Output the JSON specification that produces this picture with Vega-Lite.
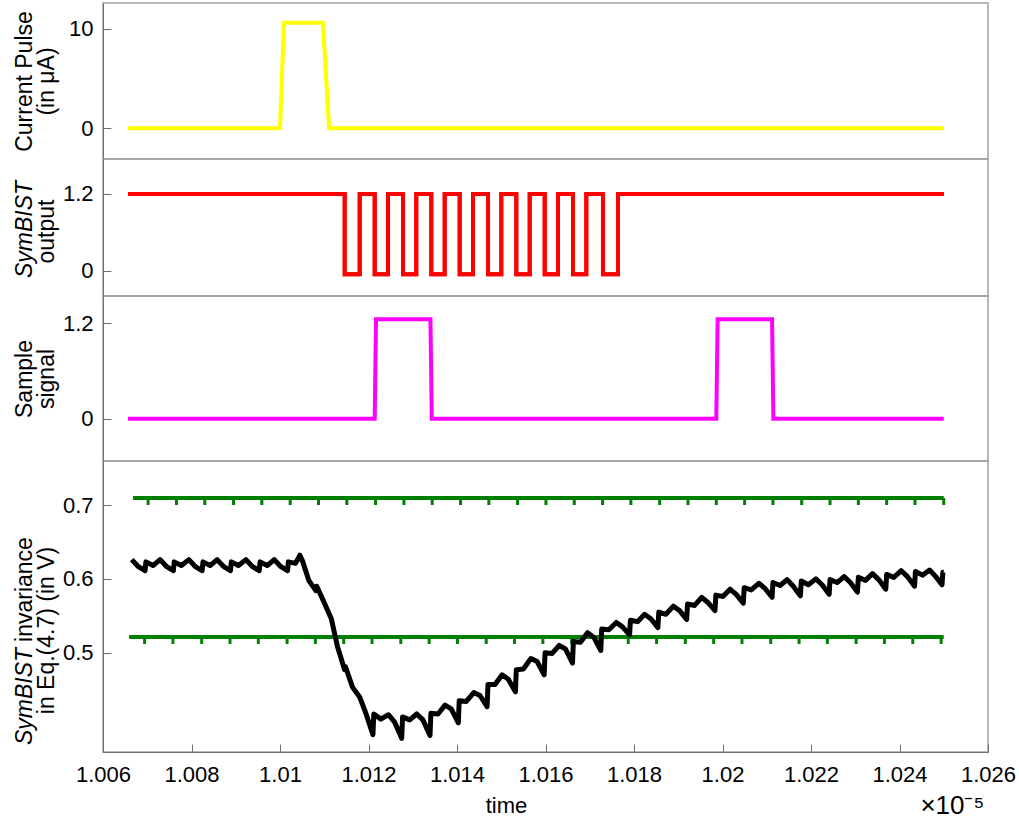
{
  "$schema": "https://vega.github.io/schema/vega-lite/v6.json",
  "padding": {"left": 12, "top": 2, "right": 2, "bottom": 12},
  "background": "white",
  "bounds": "flush",
  "spacing": 0,
  "config": {
    "view": {"stroke": "#a0a0a0", "strokeWidth": 1.5},
    "axis": {
      "labelFont": "Liberation Sans", "labelFontSize": 22, "labelColor": "#000", "labelFlush": false,
      "titleFont": "Liberation Sans", "titleFontSize": 23, "titleFontWeight": "normal", "titleColor": "#000",
      "titleLineHeight": 22,
      "grid": false, "domainColor": "#707070", "tickColor": "#707070", "tickSize": -8
    },
    "axisY": {"titleX": -67, "labelPadding": 18},
    "axisX": {"labelPadding": 20, "titlePadding": 10}
  },
  "title": {"text": "×10⁻⁵", "orient": "bottom", "anchor": "end", "fontSize": 26, "font": "Liberation Sans", "fontWeight": "normal", "color": "#000", "offset": -24, "dx": -32},
  "datasets": {
    "cur": [{"t":1.006565,"v":0},{"t":1.01,"v":0},{"t":1.01009,"v":10.6},{"t":1.01097,"v":10.6},{"t":1.01111,"v":0},{"t":1.025,"v":0}],
    "sym": [{"t":1.006565,"v":1.2},{"t":1.011462,"v":1.2},{"t":1.011462,"v":-0.05},{"t":1.011801,"v":-0.05},{"t":1.011801,"v":1.2},{"t":1.01214,"v":1.2},{"t":1.01214,"v":-0.05},{"t":1.012441,"v":-0.05},{"t":1.012441,"v":1.2},{"t":1.01278,"v":1.2},{"t":1.01278,"v":-0.05},{"t":1.01308,"v":-0.05},{"t":1.01308,"v":1.2},{"t":1.013419,"v":1.2},{"t":1.013419,"v":-0.05},{"t":1.013722,"v":-0.05},{"t":1.013722,"v":1.2},{"t":1.014061,"v":1.2},{"t":1.014061,"v":-0.05},{"t":1.014362,"v":-0.05},{"t":1.014362,"v":1.2},{"t":1.014701,"v":1.2},{"t":1.014701,"v":-0.05},{"t":1.015001,"v":-0.05},{"t":1.015001,"v":1.2},{"t":1.01534,"v":1.2},{"t":1.01534,"v":-0.05},{"t":1.015643,"v":-0.05},{"t":1.015643,"v":1.2},{"t":1.015982,"v":1.2},{"t":1.015982,"v":-0.05},{"t":1.016282,"v":-0.05},{"t":1.016282,"v":1.2},{"t":1.016621,"v":1.2},{"t":1.016621,"v":-0.05},{"t":1.016922,"v":-0.05},{"t":1.016922,"v":1.2},{"t":1.017299,"v":1.2},{"t":1.017299,"v":-0.05},{"t":1.017638,"v":-0.05},{"t":1.017638,"v":1.2},{"t":1.025,"v":1.2}],
    "smp": [{"t":1.006565,"v":0},{"t":1.01214,"v":0},{"t":1.01217,"v":1.25},{"t":1.0134,"v":1.25},{"t":1.01343,"v":0},{"t":1.01986,"v":0},{"t":1.01989,"v":1.25},{"t":1.02112,"v":1.25},{"t":1.02115,"v":0},{"t":1.025,"v":0}],
    "grn": [{"t":1.00668,"v":0.7095,"g":"hi"},{"t":1.025,"v":0.7095,"g":"hi"},{"t":1.00659,"v":0.5213,"g":"lo"},{"t":1.025,"v":0.5213,"g":"lo"}],
    "notch": [
      {"t":1.00702,"v":0.7095,"v2":0.7},{"t":1.00766,"v":0.7095,"v2":0.7},{"t":1.0083,"v":0.7095,"v2":0.7},{"t":1.00895,"v":0.7095,"v2":0.7},{"t":1.00959,"v":0.7095,"v2":0.7},{"t":1.01023,"v":0.7095,"v2":0.7},{"t":1.01087,"v":0.7095,"v2":0.7},{"t":1.01151,"v":0.7095,"v2":0.7},{"t":1.01216,"v":0.7095,"v2":0.7},{"t":1.0128,"v":0.7095,"v2":0.7},{"t":1.01344,"v":0.7095,"v2":0.7},{"t":1.01408,"v":0.7095,"v2":0.7},{"t":1.01472,"v":0.7095,"v2":0.7},{"t":1.01537,"v":0.7095,"v2":0.7},{"t":1.01601,"v":0.7095,"v2":0.7},{"t":1.01665,"v":0.7095,"v2":0.7},{"t":1.01729,"v":0.7095,"v2":0.7},{"t":1.01793,"v":0.7095,"v2":0.7},{"t":1.01858,"v":0.7095,"v2":0.7},{"t":1.01922,"v":0.7095,"v2":0.7},{"t":1.01986,"v":0.7095,"v2":0.7},{"t":1.0205,"v":0.7095,"v2":0.7},{"t":1.02114,"v":0.7095,"v2":0.7},{"t":1.02179,"v":0.7095,"v2":0.7},{"t":1.02243,"v":0.7095,"v2":0.7},{"t":1.02307,"v":0.7095,"v2":0.7},{"t":1.02371,"v":0.7095,"v2":0.7},{"t":1.02435,"v":0.7095,"v2":0.7},{"t":1.025,"v":0.7095,"v2":0.7},
      {"t":1.00694,"v":0.5213,"v2":0.5118},{"t":1.00758,"v":0.5213,"v2":0.5118},{"t":1.00823,"v":0.5213,"v2":0.5118},{"t":1.00887,"v":0.5213,"v2":0.5118},{"t":1.00951,"v":0.5213,"v2":0.5118},{"t":1.01016,"v":0.5213,"v2":0.5118},{"t":1.0108,"v":0.5213,"v2":0.5118},{"t":1.01144,"v":0.5213,"v2":0.5118},{"t":1.01208,"v":0.5213,"v2":0.5118},{"t":1.01273,"v":0.5213,"v2":0.5118},{"t":1.01337,"v":0.5213,"v2":0.5118},{"t":1.01401,"v":0.5213,"v2":0.5118},{"t":1.01466,"v":0.5213,"v2":0.5118},{"t":1.0153,"v":0.5213,"v2":0.5118},{"t":1.01594,"v":0.5213,"v2":0.5118},{"t":1.01659,"v":0.5213,"v2":0.5118},{"t":1.01723,"v":0.5213,"v2":0.5118},{"t":1.01787,"v":0.5213,"v2":0.5118},{"t":1.01851,"v":0.5213,"v2":0.5118},{"t":1.01916,"v":0.5213,"v2":0.5118},{"t":1.0198,"v":0.5213,"v2":0.5118},{"t":1.02044,"v":0.5213,"v2":0.5118},{"t":1.02109,"v":0.5213,"v2":0.5118},{"t":1.02173,"v":0.5213,"v2":0.5118},{"t":1.02237,"v":0.5213,"v2":0.5118},{"t":1.02302,"v":0.5213,"v2":0.5118},{"t":1.02366,"v":0.5213,"v2":0.5118},{"t":1.0243,"v":0.5213,"v2":0.5118},{"t":1.02494,"v":0.5213,"v2":0.5118}
    ],
    "inv": [
      {"t":1.00665,"v":0.626},{"t":1.00679,"v":0.617},{"t":1.00695,"v":0.611},{"t":1.00697,"v":0.623},{"t":1.00713,"v":0.618},
      {"t":1.00729,"v":0.626},{"t":1.00743,"v":0.617},{"t":1.00759,"v":0.611},{"t":1.00761,"v":0.623},{"t":1.00777,"v":0.618},
      {"t":1.00794,"v":0.626},{"t":1.00808,"v":0.617},{"t":1.00824,"v":0.611},{"t":1.00826,"v":0.623},{"t":1.00842,"v":0.618},
      {"t":1.00858,"v":0.626},{"t":1.00872,"v":0.617},{"t":1.00888,"v":0.611},{"t":1.0089,"v":0.623},{"t":1.00906,"v":0.618},
      {"t":1.00923,"v":0.626},{"t":1.00937,"v":0.617},{"t":1.00953,"v":0.611},{"t":1.00955,"v":0.623},{"t":1.00971,"v":0.618},
      {"t":1.00987,"v":0.626},{"t":1.01001,"v":0.617},{"t":1.01017,"v":0.611},{"t":1.01019,"v":0.623},{"t":1.01035,"v":0.621},
      {"t":1.01045,"v":0.632},
      {"t":1.01051,"v":0.624},{"t":1.01065,"v":0.598},{"t":1.01081,"v":0.584},{"t":1.01083,"v":0.59},{"t":1.01099,"v":0.569},
      {"t":1.01116,"v":0.546},{"t":1.0113,"v":0.508},{"t":1.01146,"v":0.477},{"t":1.01148,"v":0.481},{"t":1.01164,"v":0.453},
      {"t":1.0118,"v":0.44},{"t":1.01194,"v":0.418},{"t":1.0121,"v":0.389},{"t":1.01212,"v":0.417},{"t":1.01228,"v":0.41},
      {"t":1.01245,"v":0.416},{"t":1.01259,"v":0.406},{"t":1.01275,"v":0.384},{"t":1.01277,"v":0.413},{"t":1.01293,"v":0.409},
      {"t":1.01309,"v":0.417},{"t":1.01323,"v":0.409},{"t":1.01339,"v":0.388},{"t":1.01341,"v":0.418},{"t":1.01357,"v":0.417},
      {"t":1.01373,"v":0.429},{"t":1.01387,"v":0.424},{"t":1.01403,"v":0.405},{"t":1.01405,"v":0.435},{"t":1.01421,"v":0.434},
      {"t":1.01438,"v":0.446},{"t":1.01452,"v":0.442},{"t":1.01468,"v":0.427},{"t":1.0147,"v":0.457},{"t":1.01486,"v":0.457},
      {"t":1.01502,"v":0.47},{"t":1.01516,"v":0.464},{"t":1.01532,"v":0.447},{"t":1.01534,"v":0.477},{"t":1.0155,"v":0.478},
      {"t":1.01567,"v":0.492},{"t":1.01581,"v":0.488},{"t":1.01597,"v":0.47},{"t":1.01599,"v":0.5},{"t":1.01615,"v":0.499},
      {"t":1.01631,"v":0.51},{"t":1.01645,"v":0.505},{"t":1.01661,"v":0.486},{"t":1.01663,"v":0.515},{"t":1.01679,"v":0.514},
      {"t":1.01695,"v":0.527},{"t":1.01709,"v":0.521},{"t":1.01725,"v":0.503},{"t":1.01727,"v":0.532},{"t":1.01743,"v":0.531},
      {"t":1.0176,"v":0.541},{"t":1.01774,"v":0.535},{"t":1.0179,"v":0.524},{"t":1.01792,"v":0.544},{"t":1.01808,"v":0.542},
      {"t":1.01824,"v":0.552},{"t":1.01838,"v":0.546},{"t":1.01854,"v":0.534},{"t":1.01856,"v":0.555},{"t":1.01872,"v":0.552},
      {"t":1.01889,"v":0.563},{"t":1.01903,"v":0.557},{"t":1.01919,"v":0.545},{"t":1.01921,"v":0.566},{"t":1.01937,"v":0.564},
      {"t":1.01953,"v":0.575},{"t":1.01967,"v":0.568},{"t":1.01983,"v":0.557},{"t":1.01985,"v":0.578},{"t":1.02001,"v":0.576},
      {"t":1.02017,"v":0.586},{"t":1.02031,"v":0.579},{"t":1.02047,"v":0.567},{"t":1.02049,"v":0.588},{"t":1.02065,"v":0.585},
      {"t":1.02082,"v":0.594},{"t":1.02096,"v":0.587},{"t":1.02112,"v":0.575},{"t":1.02114,"v":0.595},{"t":1.0213,"v":0.591},
      {"t":1.02146,"v":0.599},{"t":1.0216,"v":0.59},{"t":1.02176,"v":0.577},{"t":1.02178,"v":0.597},{"t":1.02194,"v":0.592},
      {"t":1.02211,"v":0.6},{"t":1.02225,"v":0.592},{"t":1.02241,"v":0.579},{"t":1.02243,"v":0.599},{"t":1.02259,"v":0.595},
      {"t":1.02275,"v":0.603},{"t":1.02289,"v":0.595},{"t":1.02305,"v":0.582},{"t":1.02307,"v":0.602},{"t":1.02323,"v":0.598},
      {"t":1.02339,"v":0.607},{"t":1.02353,"v":0.599},{"t":1.02369,"v":0.586},{"t":1.02371,"v":0.606},{"t":1.02387,"v":0.602},
      {"t":1.02404,"v":0.611},{"t":1.02418,"v":0.603},{"t":1.02434,"v":0.59},{"t":1.02436,"v":0.61},{"t":1.02452,"v":0.605},
      {"t":1.02468,"v":0.612},{"t":1.02482,"v":0.603},{"t":1.02496,"v":0.592},{"t":1.02498,"v":0.609},{"t":1.025,"v":0.609}
    ]
  },
  "vconcat": [
    {
      "width": 885, "height": 156,
      "data": {"name": "cur"},
      "mark": {"type": "line", "color": "#ffff00", "strokeWidth": 4},
      "encoding": {
        "x": {"field": "t", "type": "quantitative", "scale": {"domain": [1.006, 1.026], "nice": false, "zero": false}, "axis": null},
        "y": {"field": "v", "type": "quantitative", "scale": {"domain": [-3.1, 12.6], "nice": false, "zero": false},
              "axis": {"values": [0, 10], "format": ".4~r", "title": ["Current Pulse", "(in μA)"]}},
        "order": {"value": null}
      }
    },
    {
      "width": 885, "height": 137,
      "data": {"name": "sym"},
      "encoding": {
        "x": {"field": "t", "type": "quantitative", "scale": {"domain": [1.006, 1.026], "nice": false, "zero": false}, "axis": null},
        "order": {"value": null}
      },
      "layer": [
        {"mark": {"type": "line", "color": "#ff0000", "strokeWidth": 4},
         "encoding": {"y": {"field": "v", "type": "quantitative", "scale": {"domain": [-0.39, 1.745], "nice": false, "zero": false},
              "axis": {"orient": "left", "values": [0, 1.2], "format": ".4~r", "title": "output", "titleX": -45, "titleY": 72}}}},
        {"mark": {"type": "line", "color": "#ff0000", "strokeWidth": 4},
         "encoding": {"y": {"field": "v", "type": "quantitative", "scale": {"domain": [-0.39, 1.745], "nice": false, "zero": false},
              "axis": {"orient": "left", "labels": false, "ticks": false, "domain": false, "title": "SymBIST", "titleFontStyle": "italic", "titleX": -67, "titleY": 70}}}}
      ],
      "resolve": {"scale": {"y": "independent"}}
    },
    {
      "width": 885, "height": 165,
      "data": {"name": "smp"},
      "mark": {"type": "line", "color": "#ff00ff", "strokeWidth": 4},
      "encoding": {
        "x": {"field": "t", "type": "quantitative", "scale": {"domain": [1.006, 1.026], "nice": false, "zero": false}, "axis": null},
        "y": {"field": "v", "type": "quantitative", "scale": {"domain": [-0.532, 1.543], "nice": false, "zero": false},
              "axis": {"values": [0, 1.2], "format": ".4~r", "title": ["Sample", "signal"]}},
        "order": {"value": null}
      }
    },
    {
      "width": 885, "height": 291,
      "encoding": {
        "x": {"field": "t", "type": "quantitative", "scale": {"domain": [1.006, 1.026], "nice": false, "zero": false},
              "axis": {"values": [1.006, 1.008, 1.01, 1.012, 1.014, 1.016, 1.018, 1.02, 1.022, 1.024, 1.026], "format": ".4~r", "title": "time", "titleX": 403, "titleFontSize": 22}}
      },
      "layer": [
        {"data": {"name": "grn"}, "mark": {"type": "line", "color": "#008000", "strokeWidth": 4},
         "encoding": {"detail": {"field": "g"},
           "y": {"field": "v", "type": "quantitative", "scale": {"domain": [0.3655, 0.7596], "nice": false, "zero": false},
              "axis": {"orient": "left", "values": [0.5, 0.6, 0.7], "format": ".4~r", "title": "in Eq.(4.7) (in V)", "titleX": -45, "titleY": 169}}}},
        {"data": {"name": "notch"}, "mark": {"type": "rule", "color": "#008000", "strokeWidth": 3},
         "encoding": {
           "y": {"field": "v", "type": "quantitative", "scale": {"domain": [0.3655, 0.7596], "nice": false, "zero": false},
              "axis": {"orient": "left", "labels": false, "ticks": false, "domain": false, "title": "SymBIST", "titleFontStyle": "italic", "titleX": -67, "titleY": 235}},
           "y2": {"field": "v2"}}},
        {"data": {"name": "inv"}, "mark": {"type": "line", "color": "#000000", "strokeWidth": 5, "strokeJoin": "round"},
         "encoding": {"order": {"value": null},
           "y": {"field": "v", "type": "quantitative", "scale": {"domain": [0.3655, 0.7596], "nice": false, "zero": false},
              "axis": {"orient": "left", "labels": false, "ticks": false, "domain": false, "title": "invariance", "titleX": -67, "titleY": 128}}}}
      ],
      "resolve": {"scale": {"y": "independent"}}
    }
  ]
}
